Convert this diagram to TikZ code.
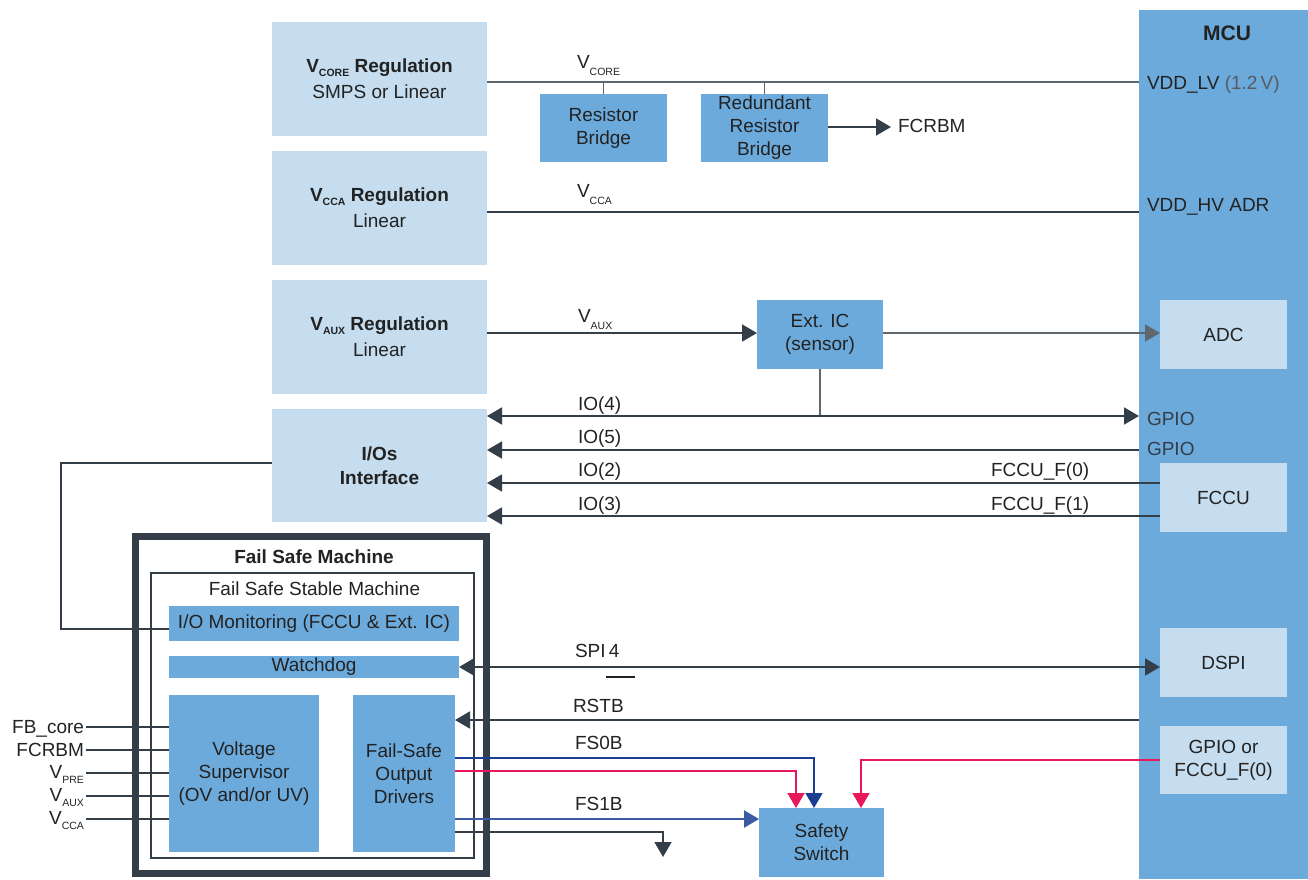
\documentclass[tikz,border=0pt]{standalone}
\usepackage{fontspec}
\setmainfont{Liberation Sans}
\usetikzlibrary{arrows.meta,calc}
\definecolor{regfill}{HTML}{C5DDEF}
\definecolor{blockfill}{HTML}{6CAADC}
\definecolor{wirecol}{HTML}{343E48}
\definecolor{softcol}{HTML}{5E666E}
\definecolor{fsblue}{HTML}{1B3E92}
\definecolor{fsred}{HTML}{E8195B}
\definecolor{ink}{HTML}{222222}
\definecolor{paleink}{HTML}{555B61}
% small lowered index text, e.g. V_CORE
\newcommand\lowsub[2][5pt]{\raisebox{-#1}{\fontsize{10.5}{10.5}\selectfont #2}}

\begin{document}
\begin{tikzpicture}[x=1pt,y=-1pt,
  every node/.style={text=ink,font=\fontsize{19}{23}\selectfont,inner sep=0pt,outer sep=0pt,align=center},
  regbox/.style={fill=regfill,anchor=north west,minimum width=215pt,minimum height=114pt},
  blockbox/.style={fill=blockfill,anchor=north west},
  mcubox/.style={fill=regfill,anchor=north west,minimum width=127pt,minimum height=69pt},
  lab/.style={anchor=base west},
  rlab/.style={anchor=base east},
  bus/.style={draw=wirecol,line width=1.8pt},
  softbus/.style={draw=softcol,line width=1.6pt},
  blueline/.style={draw=fsblue,line width=1.6pt},
  bluebus/.style={draw=fsblue!85!white,line width=2.4pt},
  redline/.style={draw=fsred,line width=1.6pt},
  tip/.style={-{Triangle[length=15pt,width=17pt]}},
  tips both/.style={{Triangle[length=15pt,width=17pt]}-{Triangle[length=15pt,width=17pt]}},
]
\useasboundingbox (0,0) rectangle (1308,879);

% ---------- MCU column ----------
\node[fill=blockfill,anchor=north west,minimum width=169pt,minimum height=869pt] (mcu) at (1139,10) {};
\node[anchor=base,font=\bfseries\fontsize{21}{23}\selectfont] (mcutitle) at (1227,40) {MCU};
\node[mcubox] (adc) at (1160,300) {ADC};
\node[mcubox] (fccu) at (1160,463) {FCCU};
\node[mcubox] (dspi) at (1160,628) {DSPI};
\node[mcubox,minimum height=68pt] (gpiobox) at (1160,726) {GPIO or\\FCCU\_F(0)};
\node[lab] (vddlv) at (1147,89) {VDD\_LV {\color{paleink}(1.2\,V)}};
\node[lab] (vddhv) at (1147,211) {VDD\_HV ADR};
\node[lab,text=wirecol] (gpioa) at (1147,425) {GPIO};
\node[lab,text=wirecol] (gpiob) at (1147,455) {GPIO};

% ---------- regulators and interface ----------
\node[regbox,font=\fontsize{19}{26}\selectfont] (vcore) at (272,22) {\textbf{V\lowsub[4pt]{CORE} Regulation}\\SMPS or Linear};
\node[regbox,font=\fontsize{19}{26}\selectfont] (vcca) at (272,151) {\textbf{V\lowsub[4pt]{CCA} Regulation}\\Linear};
\node[regbox,font=\fontsize{19}{26}\selectfont] (vaux) at (272,280) {\textbf{V\lowsub[4pt]{AUX} Regulation}\\Linear};
\node[regbox,minimum height=113pt,font=\bfseries\fontsize{19}{24}\selectfont] (ios) at (272,409) {I/Os\\Interface};

% ---------- external blocks ----------
\node[blockbox,minimum width=127pt,minimum height=68pt] (rb1) at (540,94) {Resistor\\Bridge};
\node[blockbox,minimum width=127pt,minimum height=68pt] (rb2) at (701,94) {Redundant\\Resistor\\Bridge};
\node[lab] (fcrbm) at (898,132) {FCRBM};
\node[blockbox,minimum width=126pt,minimum height=69pt] (extic) at (757,300) {Ext. IC\\(sensor)};
\node[blockbox,minimum width=125pt,minimum height=69pt] (safety) at (759,808) {Safety\\Switch};

% ---------- fail safe machine ----------
\node[draw=wirecol,line width=7pt,anchor=north west,minimum width=351pt,minimum height=337pt] (fsm) at (135.5,536.5) {};
\node[anchor=base,font=\bfseries\fontsize{19}{23}\selectfont] (fsmtitle) at (314,563) {Fail Safe Machine};
\node[draw=wirecol,line width=1.5pt,anchor=north west,minimum width=323pt,minimum height=285pt] (fssm) at (151,573) {};
\node[anchor=base] (fssmtitle) at (314.5,595) {Fail Safe Stable Machine};
\node[blockbox,minimum width=290pt,minimum height=35pt] (iomon) at (169,606) {I/O Monitoring (FCCU \& Ext. IC)};
\node[blockbox,minimum width=290pt,minimum height=22pt] (wdog) at (169,656) {Watchdog};
\node[blockbox,minimum width=150pt,minimum height=157pt] (vsup) at (169,695) {Voltage\\Supervisor\\(OV and/or UV)};
\node[blockbox,minimum width=102pt,minimum height=157pt] (fsod) at (353,695) {Fail-Safe\\Output\\Drivers};

% ---------- supply rails ----------
\draw[softbus] (vcore.east |- 0,82) -- (mcu.west |- 0,82);
\draw[softbus] (rb1.north) -- (rb1.north |- 0,82);
\draw[softbus] (rb2.north) -- (rb2.north |- 0,82);
\draw[bus,tip,shorten >=7pt] (rb2.east |- 0,127) -- (fcrbm.west |- 0,127);
\draw[bus] (vcca.east |- 0,212) -- (mcu.west |- 0,212);
\draw[bus,tip] (vaux.east |- 0,333) -- (extic.west |- 0,333);
\draw[softbus,tip] (extic.east |- 0,333) -- (adc.west |- 0,333);

% ---------- I/O lines ----------
\draw[softbus] (extic.south) -- (extic.south |- 0,416);
\draw[bus,tips both] (ios.east |- 0,416) -- (mcu.west |- 0,416);
\draw[bus,tip] (mcu.west |- 0,450) -- (ios.east |- 0,450);
\draw[bus,tip] (fccu.west |- 0,483) -- (ios.east |- 0,483);
\draw[bus,tip] (fccu.west |- 0,516) -- (ios.east |- 0,516);
\coordinate (ioturn) at (61,463);
\draw[draw=wirecol,line width=1.5pt] (ios.west |- ioturn) -- (ioturn) |- (iomon.west |- 0,629);

% ---------- line labels ----------
\node[lab] (lvcore) at (577,68) {V\lowsub[7pt]{CORE}};
\node[lab] (lvcca) at (577,197) {V\lowsub[7pt]{CCA}};
\node[lab] (lvaux) at (578,322) {V\lowsub[7pt]{AUX}};
\node[lab] (lio4) at (578,410) {IO(4)};
\node[lab] (lio5) at (578,443) {IO(5)};
\node[lab] (lio2) at (578,476) {IO(2)};
\node[lab] (lio3) at (578,510) {IO(3)};
\node[lab] (lf0) at (991,476) {FCCU\_F(0)};
\node[lab] (lf1) at (991,510) {FCCU\_F(1)};

% ---------- supervisor inputs ----------
\node[rlab] (infb) at (84,733) {FB\_core};
\node[rlab] (infc) at (84,756) {FCRBM};
\node[rlab] (inpre) at (84,778) {V\lowsub[5pt]{PRE}};
\node[rlab] (inaux) at (84,801) {V\lowsub[5pt]{AUX}};
\node[rlab] (incca) at (84,824) {V\lowsub[5pt]{CCA}};
\draw[bus] (86,727) -- (vsup.west |- 0,727);
\draw[bus] (86,750) -- (vsup.west |- 0,750);
\draw[bus] (86,773) -- (vsup.west |- 0,773);
\draw[bus] (86,796) -- (vsup.west |- 0,796);
\draw[bus] (86,819) -- (vsup.west |- 0,819);

% ---------- fail safe signals ----------
\draw[bus,tips both] (wdog.east) -- (dspi.west |- wdog.east);
\node[lab] (lspi) at (575,657) {SPI\,4};
\draw[draw=ink,line width=1.5pt] (606,677) -- (635,677);
\node[lab] (lrstb) at (573,712) {RSTB};
\draw[bus,tip] (mcu.west |- 0,720) -- (fsod.east |- 0,720);
\node[lab] (lfs0) at (575,749) {FS0B};
\draw[blueline,tip] (fsod.east |- 0,758) -| ($(safety.north)+(-7.5,0)$);
\draw[redline,tip] (fsod.east |- 0,771) -| ($(safety.north)+(-25.5,0)$);
\draw[redline,tip] (gpiobox.west) -| ($(safety.north)+(39.5,0)$);
\node[lab] (lfs1) at (575,810) {FS1B};
\draw[bluebus,tip] (fsod.east |- 0,819) -- (safety.west |- 0,819);
\coordinate (fs1end) at (663,857);
\draw[draw=wirecol,line width=1.5pt,tip] (fsod.east |- 0,832) -| (fs1end);
\end{tikzpicture}
\end{document}
